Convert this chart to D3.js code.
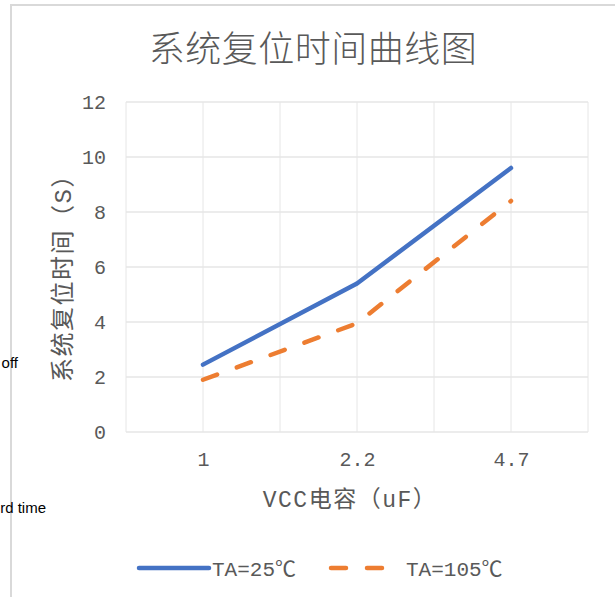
<!DOCTYPE html>
<html>
<head>
<meta charset="utf-8">
<script src="https://cdn.jsdelivr.net/npm/d3@7"></script>
<style>
  html, body { margin: 0; padding: 0; background: #ffffff; }
  svg { display: block; }
  .cjk { font-family: "Liberation Mono", "Noto Sans CJK SC", sans-serif; fill: #595959; }
  .note { font-family: "Liberation Sans", Arial, sans-serif; fill: #000000; font-size: 15px; }
</style>
</head>
<body>
<script>
// Capacitance categories on the x axis and reset-time series (seconds)
const categories = ["1", "2.2", "4.7"];
const seriesNames = ["TA=25℃", "TA=105℃"];
const ta25 = [2.45, 5.4, 9.6];
const ta105 = [1.9, 3.95, 8.4];
const yTicks = [0, 2, 4, 6, 8, 10, 12];
const titleText = "系统复位时间曲线图";
const yTitle = "系统复位时间（S）";
const xTitle = "VCC电容（uF）";

const W = 615, H = 597;
const plot = { left: 126, right: 588, top: 102, bottom: 432 };

const svg = d3.select("body").append("svg").attr("width", W).attr("height", H);

// category index (1..n) mapped onto a linear scale, half a slot of padding each side
const x = d3.scaleLinear().domain([0.5, categories.length + 0.5]).range([plot.left, plot.right]);
const y = d3.scaleLinear().domain([0, 12]).range([plot.bottom, plot.top]);

// chart frame (left and top edges)
svg.append("line").attr("x1", 11).attr("x2", 11).attr("y1", 4).attr("y2", H)
  .attr("stroke", "#d9d9d9").attr("stroke-width", 2);
svg.append("line").attr("x1", 10).attr("x2", W).attr("y1", 5).attr("y2", 5)
  .attr("stroke", "#d9d9d9").attr("stroke-width", 2);

// surrounding document text
svg.append("text").attr("class", "note").attr("x", 18).attr("y", 368).attr("text-anchor", "end").text("off");
svg.append("text").attr("class", "note").attr("x", 46).attr("y", 513).attr("text-anchor", "end").text("rd time");

// grid
const g = svg.append("g");
g.selectAll(".hgrid").data(yTicks).join("line")
  .attr("x1", plot.left).attr("x2", plot.right)
  .attr("y1", d => y(d)).attr("y2", d => y(d))
  .attr("stroke", "#d9d9d9").attr("stroke-width", 1);
const vgrid = d3.range(0.5, categories.length + 0.51, 0.5);
g.selectAll(".vgrid").data(vgrid).join("line")
  .attr("x1", d => x(d)).attr("x2", d => x(d))
  .attr("y1", plot.top).attr("y2", plot.bottom)
  .attr("stroke", "#e6e6e6").attr("stroke-width", 1);

// y axis labels
const yAxis = d3.axisLeft(y).tickValues(yTicks).tickSize(0).tickPadding(20);
const ya = svg.append("g").attr("transform", `translate(${plot.left},0)`).call(yAxis);
ya.select(".domain").remove();
ya.selectAll("text").attr("class", "cjk").attr("font-size", 20).attr("font-family", null).attr("fill", null);

// x axis labels
const xAxis = d3.axisBottom(x).tickValues(categories.map((c, i) => i + 1))
  .tickFormat((d, i) => categories[i]).tickSize(0).tickPadding(20);
const xa = svg.append("g").attr("transform", `translate(0,${plot.bottom})`).call(xAxis);
xa.select(".domain").remove();
xa.selectAll("text").attr("class", "cjk").attr("font-size", 20).attr("font-family", null).attr("fill", null);

// titles
svg.append("text").attr("class", "cjk").attr("x", 313).attr("y", 62)
  .attr("text-anchor", "middle").attr("font-size", 36).attr("font-weight", 300)
  .attr("letter-spacing", 0.5).text(titleText);
svg.append("text").attr("class", "cjk").attr("x", 350).attr("y", 507)
  .attr("text-anchor", "middle").attr("font-size", 23).attr("letter-spacing", 1.5).text(xTitle);
svg.append("text").attr("class", "cjk")
  .attr("transform", "translate(71,272) rotate(-90)")
  .attr("text-anchor", "middle").attr("font-size", 24).attr("letter-spacing", 1.5).text(yTitle);

// series lines
const line = d3.line().x((d, i) => x(i + 1)).y(d => y(d));
const styles = [
  { data: ta25, color: "#4472C4", dash: null },
  { data: ta105, color: "#ED7D31", dash: "15,21" }
];
styles.forEach(s => {
  svg.append("path").datum(s.data).attr("d", line)
    .attr("fill", "none").attr("stroke", s.color).attr("stroke-width", 4.5)
    .attr("stroke-linecap", "round").attr("stroke-linejoin", "round")
    .attr("stroke-dasharray", s.dash);
});

// legend
const legendItems = [
  { x1: 139, x2: 209, tx: 212, name: seriesNames[0], s: styles[0] },
  { x1: 331, x2: 401, tx: 406, name: seriesNames[1], s: styles[1] }
];
legendItems.forEach(it => {
  svg.append("line").attr("x1", it.x1).attr("x2", it.x2).attr("y1", 568).attr("y2", 568)
    .attr("stroke", it.s.color).attr("stroke-width", 4.5)
    .attr("stroke-linecap", "round").attr("stroke-dasharray", it.s.dash);
  svg.append("text").attr("class", "cjk").attr("x", it.tx).attr("y", 576)
    .attr("font-size", 21).text(it.name);
});
</script>
</body>
</html>
